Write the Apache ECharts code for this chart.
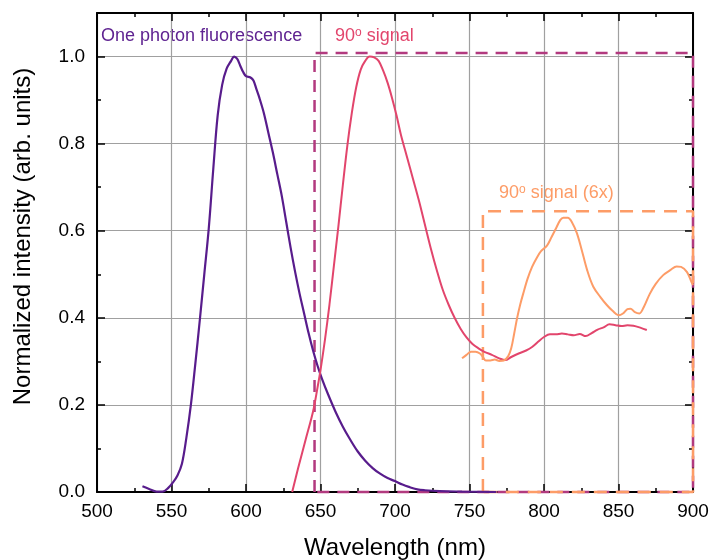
<!DOCTYPE html>
<html>
<head>
<meta charset="utf-8">
<script src="https://cdn.jsdelivr.net/npm/echarts@6/dist/echarts.min.js"></script>
<style>html,body{margin:0;padding:0;background:#fff}#c{width:712px;height:560px}</style>
</head>
<body>
<div id="c"></div>
<script>
// ---- data (wavelength nm, normalized intensity) ----
var fluorescence = [[530.5,0.013],[535,0.007],[540,0.001],[544,0.001],[548,0.01],[551,0.022],[554,0.038],[557,0.065],[560,0.125],[563,0.2],[566,0.295],[569,0.395],[572,0.5],[575,0.605],[578,0.74],[581,0.865],[584,0.935],[587,0.972],[590,0.99],[592,1.0],[594,0.995],[596,0.98],[598,0.965],[600,0.955],[603,0.952],[605,0.945],[607,0.925],[609,0.905],[612,0.87],[615,0.825],[618,0.78],[621,0.73],[624,0.68],[627,0.62],[630,0.56],[633,0.505],[636,0.455],[639,0.41],[642,0.365],[645,0.325],[648,0.29],[651,0.26],[655,0.225],[660,0.185],[665,0.15],[670,0.12],[675,0.093],[680,0.072],[685,0.055],[690,0.042],[695,0.032],[700,0.025],[705,0.017],[710,0.011],[715,0.006],[720,0.004],[730,0.002],[745,0.001],[768,0.0]];
var signal90 = [[631,0],[635,0.055],[640,0.12],[645,0.185],[648,0.24],[650,0.28],[653,0.35],[656,0.43],[659,0.52],[662,0.61],[665,0.705],[668,0.795],[671,0.87],[674,0.93],[677,0.97],[680,0.99],[683,1.0],[686,0.998],[689,0.99],[692,0.968],[695,0.94],[698,0.905],[701,0.865],[704,0.82],[708,0.77],[712,0.72],[716,0.67],[720,0.615],[724,0.56],[728,0.51],[732,0.465],[736,0.43],[740,0.4],[744,0.375],[748,0.355],[752,0.34],[756,0.33],[760,0.322],[765,0.315],[770,0.307],[774,0.303],[778,0.31],[783,0.318],[788,0.325],[792,0.333],[796,0.345],[800,0.356],[804,0.362],[808,0.362],[812,0.364],[816,0.362],[820,0.36],[824,0.363],[828,0.358],[832,0.365],[836,0.373],[840,0.378],[844,0.385],[848,0.383],[852,0.381],[856,0.383],[860,0.382],[865,0.377],[869,0.372]];
var signal90x6 = [[745,0.307],[748,0.315],[751,0.322],[754,0.322],[757,0.318],[759,0.31],[761,0.302],[764,0.302],[767,0.304],[770,0.301],[773,0.302],[776,0.312],[778,0.33],[780,0.364],[782,0.4],[784,0.43],[786,0.455],[789,0.49],[792,0.517],[795,0.537],[798,0.553],[802,0.566],[805,0.585],[808,0.605],[811,0.625],[813,0.63],[816,0.63],[819,0.618],[822,0.595],[825,0.56],[829,0.509],[833,0.472],[838,0.447],[842,0.43],[846,0.416],[850,0.406],[853,0.41],[856,0.42],[858,0.421],[861,0.413],[864,0.41],[867,0.425],[871,0.455],[875,0.478],[880,0.498],[885,0.51],[889,0.518],[892,0.517],[896,0.505],[899,0.482],[900,0.475]];
var box90 = [[646,0],[646,1.008],[900,1.008],[900,0],[646,0]];
var box90x6 = [[759,0],[759,0.645],[900,0.645],[900,0],[759,0]];
var xTicks = {min:500, max:900, step:50};
var yTicks = {min:0, max:1.1, step:0.2};
var labels = {fluo:'One photon fluorescence', sig:'signal', sig6:'signal (6x)'};

var FONT = '"Liberation Sans", Arial, Helvetica, sans-serif';
var C_PURPLE = '#581c8c', C_PINK = '#e2456c', C_MAG = '#b23a7f', C_ORANGE = '#fd9c67';

function xAxisDef(pos, main) {
  return {
    type:'value', position:pos, min:xTicks.min, max:xTicks.max, interval:xTicks.step,
    axisLine:{show:true, onZero:false, lineStyle:{color:'#000', width:2}},
    axisTick:{show:true, inside:true, length:8, lineStyle:{color:'#000', width:1.5}},
    minorTick:{show:true, splitNumber:2, length:4, lineStyle:{color:'#000', width:1.5}},
    axisLabel:{show:main, fontSize:19, color:'#000', margin:10, fontFamily:FONT},
    splitLine:{show:main, lineStyle:{color:'#a0a0a0', width:1.2}},
    name: main ? 'Wavelength (nm)' : '', nameLocation:'middle', nameGap:44,
    nameTextStyle:{fontSize:24, color:'#000', fontFamily:FONT}
  };
}
function yAxisDef(pos, main, minor) {
  return {
    type:'value', position:pos, min:yTicks.min, max:yTicks.max,
    interval: minor ? yTicks.step/2 : yTicks.step,
    axisLine:{show:!minor, onZero:false, lineStyle:{color:'#000', width:2}},
    axisTick:{show:true, inside:true, length: minor ? 4 : 8, lineStyle:{color:'#000', width:1.5}},
    axisLabel:{show:main, fontSize:19, color:'#000', margin:12, fontFamily:FONT, showMaxLabel:false,
      formatter:function(v){return v.toFixed(1);}},
    splitLine:{show:main, lineStyle:{color:'#a0a0a0', width:1.2}},
    name: main ? 'Normalized intensity (arb. units)' : '', nameLocation:'middle', nameGap:62,
    nameTextStyle:{fontSize:24, color:'#000', fontFamily:FONT, padding:[0,0,0,32]}
  };
}

var chart = echarts.init(document.getElementById('c'), null, {renderer:'canvas'});
chart.setOption({
  animation:false,
  backgroundColor:'#fff',
  textStyle:{fontFamily:FONT},
  grid:{left:97, right:19, top:13, bottom:68, outerBoundsMode:'none'},
  xAxis:[xAxisDef('bottom', true), xAxisDef('top', false)],
  yAxis:[yAxisDef('left', true, false), yAxisDef('right', false, false), yAxisDef('left', false, true), yAxisDef('right', false, true)],
  series:[
    {type:'line', data:box90, showSymbol:false, clip:false, z:3, lineStyle:{color:C_MAG, width:2.5, type:[12,8]}, itemStyle:{color:C_MAG}},
    {type:'line', data:box90x6, showSymbol:false, clip:false, z:3, lineStyle:{color:C_ORANGE, width:2.5, type:[13,9]}, itemStyle:{color:C_ORANGE}},
    {type:'line', data:fluorescence, smooth:0.35, showSymbol:false, z:4, lineStyle:{color:C_PURPLE, width:2.2}, itemStyle:{color:C_PURPLE}},
    {type:'line', data:signal90, smooth:0.35, showSymbol:false, z:4, lineStyle:{color:C_PINK, width:2}, itemStyle:{color:C_PINK}},
    {type:'line', data:signal90x6, smooth:0.35, showSymbol:false, z:4, lineStyle:{color:C_ORANGE, width:2}, itemStyle:{color:C_ORANGE}}
  ],
  graphic:[
    {type:'text', left:101, top:27, style:{text:labels.fluo, fill:'#5f2391', font:'18px ' + FONT}},
    {type:'text', left:335, top:27, style:{rich:{a:{fontSize:18, fontFamily:FONT, fill:C_PINK, color:C_PINK}, s:{fontSize:12, fontFamily:FONT, fill:C_PINK, color:C_PINK, verticalAlign:'top', lineHeight:18}},
      text:'{a|90}{s|o}{a| ' + labels.sig + '}', fill:C_PINK}},
    {type:'text', left:499, top:184, style:{rich:{a:{fontSize:18, fontFamily:FONT, fill:C_ORANGE, color:C_ORANGE}, s:{fontSize:12, fontFamily:FONT, fill:C_ORANGE, color:C_ORANGE, verticalAlign:'top', lineHeight:18}},
      text:'{a|90}{s|o}{a| ' + labels.sig6 + '}', fill:C_ORANGE}}
  ]
});
</script>
</body>
</html>
